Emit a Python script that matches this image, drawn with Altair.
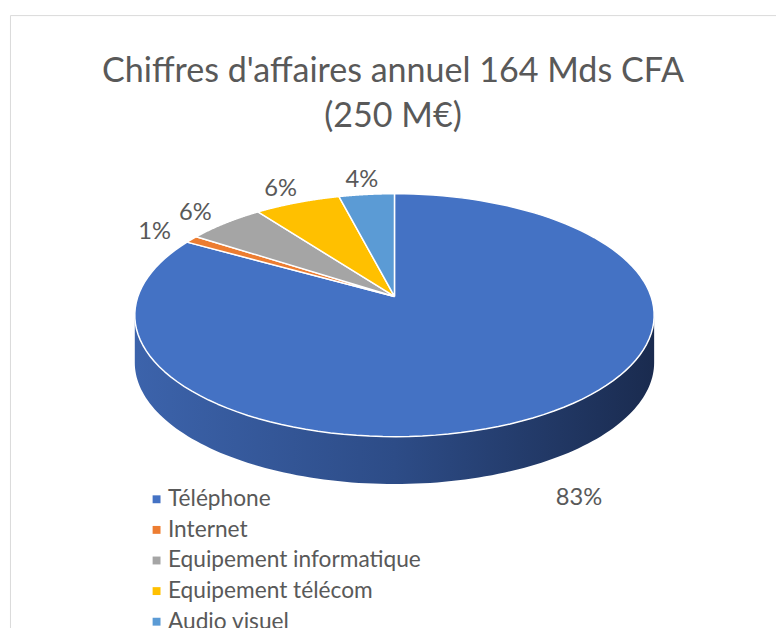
import altair as alt
import pandas as pd

# ---- data ----
categories = ["Téléphone", "Internet", "Equipement informatique", "Equipement télécom", "Audio visuel"]
values = [83.2, 1.0, 5.6, 6.2, 4.0]
colors = ["#4472C4", "#ED7D31", "#A5A5A5", "#FFC000", "#5B9BD5"]
title_lines = ["Chiffres d'affaires annuel 164 Mds CFA", "(250 M€)"]

# ---- layout / style constants (pixels of the plot area) ----
W, H = 776, 640
CX, CY = 389.5, 285.0          # projected pie centre
A, B, K = 259.9, 120.1, 0.1545  # projected radii and perspective factor
DEPTH = 48                      # thickness of the 3D wall
N = 120                         # points per slice outline
M = 120                         # points on the wall
F = 1.2                         # label radial factor
LABEL_GAP = 8                   # extra clearance for labels below the wall
FONT = "Lato"
TXT = "#595959"

xs = alt.Scale(domain=[0, W], nice=False, zero=False)
ys = alt.Scale(domain=[0, H], nice=False, zero=False, reverse=True)

df = pd.DataFrame({"cat": categories, "value": values, "idx": list(range(len(categories)))})

base = (
    alt.Chart(df)
    .transform_window(cum="sum(value)", sort=[alt.SortField("idx")], frame=[None, 0])
    .transform_joinaggregate(total="sum(value)")
    .transform_calculate(start="datum.cum - datum.value")
)

# ---- top faces of the slices (filled closed outlines) ----
slices = (
    base.transform_calculate(seq=f"sequence(0, {N + 3})")
    .transform_flatten(["seq"], as_=["i"])
    .transform_calculate(frac=f"clamp((datum.i - 1) / {N}, 0, 1)")
    .transform_calculate(th="2 * PI * (datum.start + datum.value * datum.frac) / datum.total")
    .transform_calculate(
        px=f"(datum.i == 0 || datum.i == {N + 2}) ? {CX} : {CX} + {A} * sin(datum.th) / (1 + {K} * cos(datum.th))"
    )
    .transform_calculate(
        py=f"(datum.i == 0 || datum.i == {N + 2}) ? {CY} : {CY} - {B} * cos(datum.th) / (1 + {K} * cos(datum.th))"
    )
    .mark_line(stroke="white", strokeWidth=1.5, strokeJoin="round")
    .encode(
        x=alt.X("px:Q", scale=xs, axis=None),
        y=alt.Y("py:Q", scale=ys, axis=None),
        fill=alt.Fill(
            "cat:N",
            scale=alt.Scale(domain=categories, range=colors),
            legend=alt.Legend(
                title=None,
                orient="none",
                legendX=137,
                legendY=479,
                symbolType="square",
                symbolSize=64,
                symbolStrokeWidth=0,
                labelFont=FONT,
                labelFontSize=23,
                labelColor=TXT,
                labelOffset=0,
                labelLimit=500,
                rowPadding=7,
                padding=0,
            ),
        ),
        order=alt.Order("i:Q"),
    )
)

# ---- visible front wall of the pie ----
gradient = alt.LinearGradient(
    gradient="linear",
    stops=[
        alt.GradientStop(color="#3c63ab", offset=0),
        alt.GradientStop(color="#2d4c87", offset=0.5),
        alt.GradientStop(color="#1a2b4f", offset=1),
    ],
    x1=0, x2=1, y1=0, y2=0,
)
wall = (
    alt.Chart(alt.sequence(0, M + 1, as_="j"))
    .transform_calculate(th=f"acos(-{K}) + (2 * PI - 2 * acos(-{K})) * datum.j / {M}")
    .transform_calculate(px=f"{CX} + {A} * sin(datum.th) / (1 + {K} * cos(datum.th))")
    .transform_calculate(py=f"{CY} - {B} * cos(datum.th) / (1 + {K} * cos(datum.th))")
    .transform_calculate(py2=f"datum.py + {DEPTH}")
    .mark_area(color=gradient)
    .encode(
        x=alt.X("px:Q", scale=xs, axis=None),
        y=alt.Y("py:Q", scale=ys, axis=None),
        y2="py2:Q",
    )
)

# ---- percentage labels ----
labels = (
    base.transform_calculate(th="2 * PI * (datum.start + datum.value / 2) / datum.total")
    .transform_calculate(lu=f"{F} * sin(datum.th)")
    .transform_calculate(lv=f"-{F} * cos(datum.th)")
    .transform_calculate(lx=f"{CX} + {A} * datum.lu / (1 - {K} * datum.lv)")
    .transform_calculate(
        ly=f"{CY} + {B} * datum.lv / (1 - {K} * datum.lv) + (datum.lv > 0 ? {DEPTH + LABEL_GAP} : 3)"
    )
    .transform_calculate(lab="format(datum.value / datum.total * 100, '.0f') + '%'")
    .mark_text(font=FONT, fontSize=24, color=TXT)
    .encode(
        x=alt.X("lx:Q", scale=xs, axis=None),
        y=alt.Y("ly:Q", scale=ys, axis=None),
        text="lab:N",
    )
)

chart = (
    alt.layer(wall, slices, labels)
    .properties(
        width=W,
        height=H,
        autosize=alt.AutoSizeParams(type="none"),
        padding={"left": 2, "top": 3, "right": 0, "bottom": 0},
        background="white",
        title=alt.Title(
            title_lines,
            font=FONT,
            fontSize=34.5,
            fontWeight="normal",
            color=TXT,
            anchor="middle",
            frame="group",
            baseline="top",
            offset=0,
            dy=121,
            lineHeight=46,
        ),
    )
    .configure_view(stroke="#d9d9d9", strokeWidth=1)
)

chart.save("out.html", embed_options={"renderer": "svg", "actions": False})
